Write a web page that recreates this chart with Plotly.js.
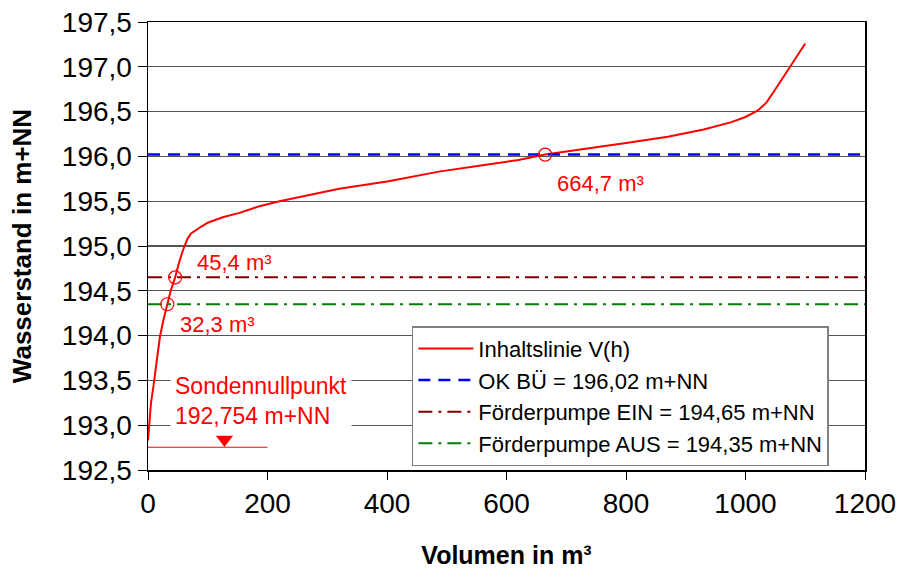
<!DOCTYPE html>
<html><head><meta charset="utf-8">
<script src="https://cdn.plot.ly/plotly-3.0.1.min.js"></script>
<style>body{margin:0;background:#fff}#c{width:900px;height:576px}</style>
</head><body><div id="c"></div>
<script>
// Inhaltslinie V(h)
const volume = [0, 2, 5, 9, 15, 20, 26, 32.3, 38, 45.4, 53, 60, 66, 72, 80, 90, 100, 125, 153, 185, 220, 270, 320, 400, 487, 560, 620, 664.7, 720, 800, 870, 930, 975, 1000, 1020, 1035, 1050, 1065, 1080, 1100];
const level = [192.83, 193.05, 193.25, 193.43, 193.75, 193.99, 194.18, 194.35, 194.5, 194.65, 194.84, 194.98, 195.08, 195.14, 195.18, 195.22, 195.26, 195.32, 195.37, 195.44, 195.50, 195.57, 195.64, 195.72, 195.83, 195.90, 195.96, 196.02, 196.07, 196.15, 196.22, 196.30, 196.38, 196.44, 196.51, 196.6, 196.75, 196.9, 197.06, 197.26];
// reference levels
const levelX = [0, 1200];
const okBU = 196.02, pumpOn = 194.65, pumpOff = 194.35;
const sondeLevel = 192.754;
const sondeX = [0, 200];
const sondeMarkX = [128];
const sondeMarkY = [192.84];
// intersection points
const pointV = [32.3, 45.4, 664.7];
const pointH = [194.35, 194.65, 196.02];
const pointLabels = ['32,3 m³', '45,4 m³', '664,7 m³'];
const labelX = [50, 79, 681];
const labelY = [194.12, 194.82, 195.70];
const yTicks = [192.5, 193, 193.5, 194, 194.5, 195, 195.5, 196, 196.5, 197, 197.5];
const xTicks = [0, 200, 400, 600, 800, 1000, 1200];

const F = 'Arial, "Liberation Sans", sans-serif';
const traces = [
  {x: volume, y: level, mode: 'lines', name: 'Inhaltslinie V(h)', line: {color: '#ff0000', width: 2}},
  {x: levelX, y: [okBU, okBU], mode: 'lines', name: 'OK BÜ = 196,02 m+NN', line: {color: '#0000ff', width: 2.5, dash: '12px,8px'}},
  {x: levelX, y: [pumpOn, pumpOn], mode: 'lines', name: 'Förderpumpe EIN = 194,65 m+NN', line: {color: '#800000', width: 2, dash: '14px,6px,3px,6px'}},
  {x: levelX, y: [pumpOff, pumpOff], mode: 'lines', name: 'Förderpumpe AUS = 194,35 m+NN', line: {color: '#008000', width: 2, dash: '14px,6px,3px,6px'}},
  {x: sondeX, y: [sondeLevel, sondeLevel], mode: 'lines', showlegend: false, line: {color: '#ff0000', width: 1}},
  {x: sondeMarkX, y: sondeMarkY, mode: 'markers', showlegend: false, marker: {symbol: 'triangle-down', size: 15, color: '#ff0000'}},
  {x: pointV, y: pointH, mode: 'markers', showlegend: false, marker: {symbol: 'circle-open', size: 13, color: '#ff0000', line: {width: 1.2}}}
];
const annotations = pointLabels.map((t, i) => ({
  x: labelX[i], y: labelY[i], text: t, showarrow: false, xanchor: 'left', yanchor: 'middle',
  font: {family: F, size: 22, color: '#ff0000'}
}));
annotations.push({
  x: 189, y: 193.27, text: 'Sondennullpunkt<br>192,754 m+NN', showarrow: false, align: 'left',
  xanchor: 'center', yanchor: 'middle', bgcolor: '#ffffff', borderpad: 4,
  font: {family: F, size: 23, color: '#ff0000'}
});
const layout = {
  width: 900, height: 576,
  margin: {l: 148, r: 35, t: 22, b: 106},
  paper_bgcolor: '#ffffff', plot_bgcolor: '#ffffff',
  separators: ',.',
  font: {family: F, color: '#000'},
  showlegend: true,
  legend: {x: 0.368, y: 0.321, xanchor: 'left', yanchor: 'top', bgcolor: '#ffffff', itemwidth: 55,
    bordercolor: '#808080', borderwidth: 1.5, font: {family: F, size: 22, color: '#000'}, tracegroupgap: 0},
  xaxis: {range: [0, 1200], tickvals: xTicks, tickformat: 'd', showgrid: false, zeroline: false,
    showline: true, linecolor: '#000', linewidth: 1.5, mirror: true, ticks: 'outside', ticklen: 8, tickcolor: '#000',
    tickfont: {family: F, size: 28}, title: {text: '<b>Volumen in m³</b>', font: {family: F, size: 25}, standoff: 28}},
  yaxis: {range: [192.5, 197.5], tickvals: yTicks, tickformat: '.1f', showgrid: true, gridcolor: '#555555', gridwidth: 1.2,
    zeroline: false, showline: true, linecolor: '#000', linewidth: 1.5, mirror: true, ticks: 'outside', ticklen: 9, tickcolor: '#000',
    tickfont: {family: F, size: 28}, title: {text: '<b>Wasserstand in m+NN</b>', font: {family: F, size: 26}, standoff: 22}},
  annotations: annotations
};
Plotly.newPlot('c', traces, layout, {displayModeBar: false, staticPlot: true});
</script></body></html>
